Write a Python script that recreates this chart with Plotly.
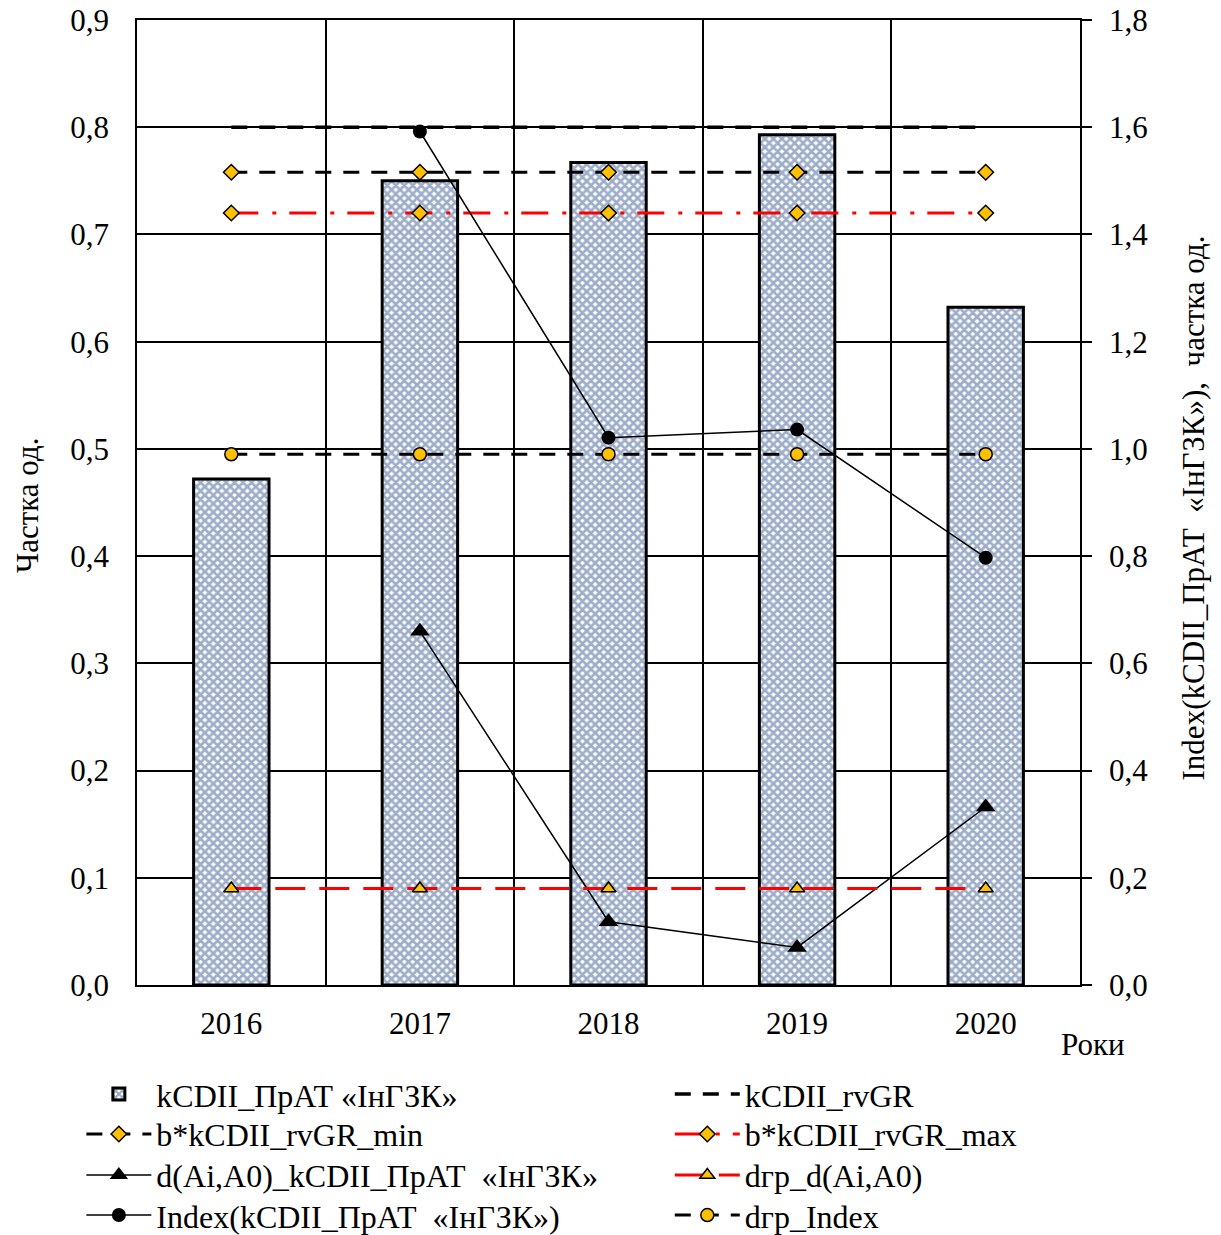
import plotly.graph_objects as go

# Data
years = ["2016", "2017", "2018", "2019", "2020"]
kcdii = [0.472, 0.750, 0.767, 0.793, 0.632]
kcdii_rvgr = [0.80, 0.80, 0.80, 0.80, 0.80]
b_rvgr_min = [0.758, 0.758, 0.758, 0.758, 0.758]
b_rvgr_max = [0.720, 0.720, 0.720, 0.720, 0.720]
d_ai_a0 = [None, 0.330, 0.059, 0.035, 0.166]
dgr_d = [0.090, 0.090, 0.090, 0.090, 0.090]
index_vals = [None, 1.592, 1.021, 1.036, 0.797]
dgr_index = [0.990, 0.990, 0.990, 0.990, 0.990]

left_ticks = [0.0, 0.1, 0.2, 0.3, 0.4, 0.5, 0.6, 0.7, 0.8, 0.9]
right_ticks = [0.0, 0.2, 0.4, 0.6, 0.8, 1.0, 1.2, 1.4, 1.6, 1.8]

xs = list(range(len(years)))
FONT = "Liberation Serif, Times New Roman, serif"
GOLD = "#FFC000"
RED = "#FF0000"

fig = go.Figure()

fig.add_trace(go.Bar(
    x=xs, y=kcdii, name="kCDII_ПрАТ «ІнГЗК»", width=0.4,
    marker=dict(color="#b8c6de", line=dict(color="black", width=3),
                pattern=dict(shape="x", fgcolor="#3d5e93", bgcolor="#ffffff",
                             size=6, solidity=0.7)),
    yaxis="y", legend="legend",
))
fig.add_trace(go.Scatter(
    x=xs, y=kcdii_rvgr, name="kCDII_rvGR", mode="lines",
    line=dict(color="black", width=3.5, dash="16px,12px"), yaxis="y",
    legend="legend2",
))
fig.add_trace(go.Scatter(
    x=xs, y=b_rvgr_min, name="b*kCDII_rvGR_min", mode="lines+markers",
    line=dict(color="black", width=3, dash="16px,12px"),
    marker=dict(symbol="diamond", size=12, color=GOLD, line=dict(color="black", width=1.5)),
    yaxis="y", legend="legend3",
))
fig.add_trace(go.Scatter(
    x=xs, y=b_rvgr_max, name="b*kCDII_rvGR_max", mode="lines+markers",
    line=dict(color=RED, width=3, dash="27px,14px,4px,13px"),
    marker=dict(symbol="diamond", size=12, color=GOLD, line=dict(color="black", width=1.5)),
    yaxis="y", legend="legend4",
))
fig.add_trace(go.Scatter(
    x=xs, y=d_ai_a0, name="d(Ai,A0)_kCDII_ПрАТ  «ІнГЗК»", mode="lines+markers",
    line=dict(color="black", width=1.5),
    marker=dict(symbol="triangle-up", size=17, color="black"),
    yaxis="y", legend="legend5",
))
fig.add_trace(go.Scatter(
    x=xs, y=dgr_d, name="dгр_d(Ai,A0)", mode="lines+markers",
    line=dict(color=RED, width=3, dash="30px,14px"),
    marker=dict(symbol="triangle-up", size=13, color=GOLD, line=dict(color="black", width=1.5)),
    yaxis="y", legend="legend6",
))
fig.add_trace(go.Scatter(
    x=xs, y=index_vals, name="Index(kCDII_ПрАТ  «ІнГЗК»)", mode="lines+markers",
    line=dict(color="black", width=1.5),
    marker=dict(symbol="circle", size=14, color="black"),
    yaxis="y2", legend="legend7",
))
fig.add_trace(go.Scatter(
    x=xs, y=dgr_index, name="dгр_Index", mode="lines+markers",
    line=dict(color="black", width=3, dash="16px,12px"),
    marker=dict(symbol="circle", size=13, color=GOLD, line=dict(color="black", width=1.5)),
    yaxis="y2", legend="legend8",
))

# Two legend columns, four rows; one legend box per entry
col_x = [-0.059, 0.565]
row_y = [-0.0847, -0.1261, -0.1686, -0.2101]
legends = {}
for i in range(8):
    key = "legend" if i == 0 else f"legend{i + 1}"
    legends[key] = dict(
        x=col_x[i % 2], y=row_y[i // 2], xanchor="left", yanchor="top",
        xref="paper", yref="paper", orientation="v", itemwidth=65,
        font=dict(family=FONT, size=32), bgcolor="rgba(0,0,0,0)", borderwidth=0,
    )

fig.update_layout(
    width=1221, height=1235,
    margin=dict(l=137, r=141, t=20, b=250, autoexpand=False),
    paper_bgcolor="white", plot_bgcolor="white",
    font=dict(family=FONT, size=31, color="black"),
    separators=", ",
    barmode="overlay",
    showlegend=True,
    xaxis=dict(
        range=[-0.5, 4.5], tickvals=xs, ticktext=years,
        showgrid=False, zeroline=False,
        showline=True, linecolor="black", linewidth=1.5, mirror=True,
        ticks="", ticklabelstandoff=10,
        minor=dict(tickvals=[0.5, 1.5, 2.5, 3.5], showgrid=True,
                   gridcolor="black", gridwidth=1.5),
    ),
    yaxis=dict(
        range=[0, 0.9], tickvals=left_ticks, tickformat=".1f",
        showgrid=True, gridcolor="black", gridwidth=1.5, zeroline=False,
        showline=True, linecolor="black", linewidth=1.5,
        ticks="", ticklabelstandoff=20,
    ),
    yaxis2=dict(
        range=[0, 1.8], tickvals=right_ticks, tickformat=".1f",
        overlaying="y", side="right", showgrid=False, zeroline=False,
        showline=True, linecolor="black", linewidth=1.5,
        ticks="outside", ticklen=10, tickwidth=1.5, tickcolor="black",
        ticklabelstandoff=11,
    ),
    annotations=[
        dict(text="Частка од.", x=-0.116, y=0.497, xref="paper", yref="paper",
             xanchor="center", yanchor="middle",
             textangle=-90, showarrow=False, font=dict(size=31)),
        dict(text="Index(kCDII_ПрАТ  «ІнГЗК»),  частка од.", x=1.12, y=0.494,
             xref="paper", yref="paper", xanchor="center", yanchor="middle",
             textangle=-90, showarrow=False, font=dict(size=31)),
        dict(text="Роки", x=1.014, y=-0.062, xref="paper", yref="paper",
             xanchor="center", yanchor="middle",
             showarrow=False, font=dict(size=31)),
    ],
    **legends,
)

fig.write_html("out.html")
